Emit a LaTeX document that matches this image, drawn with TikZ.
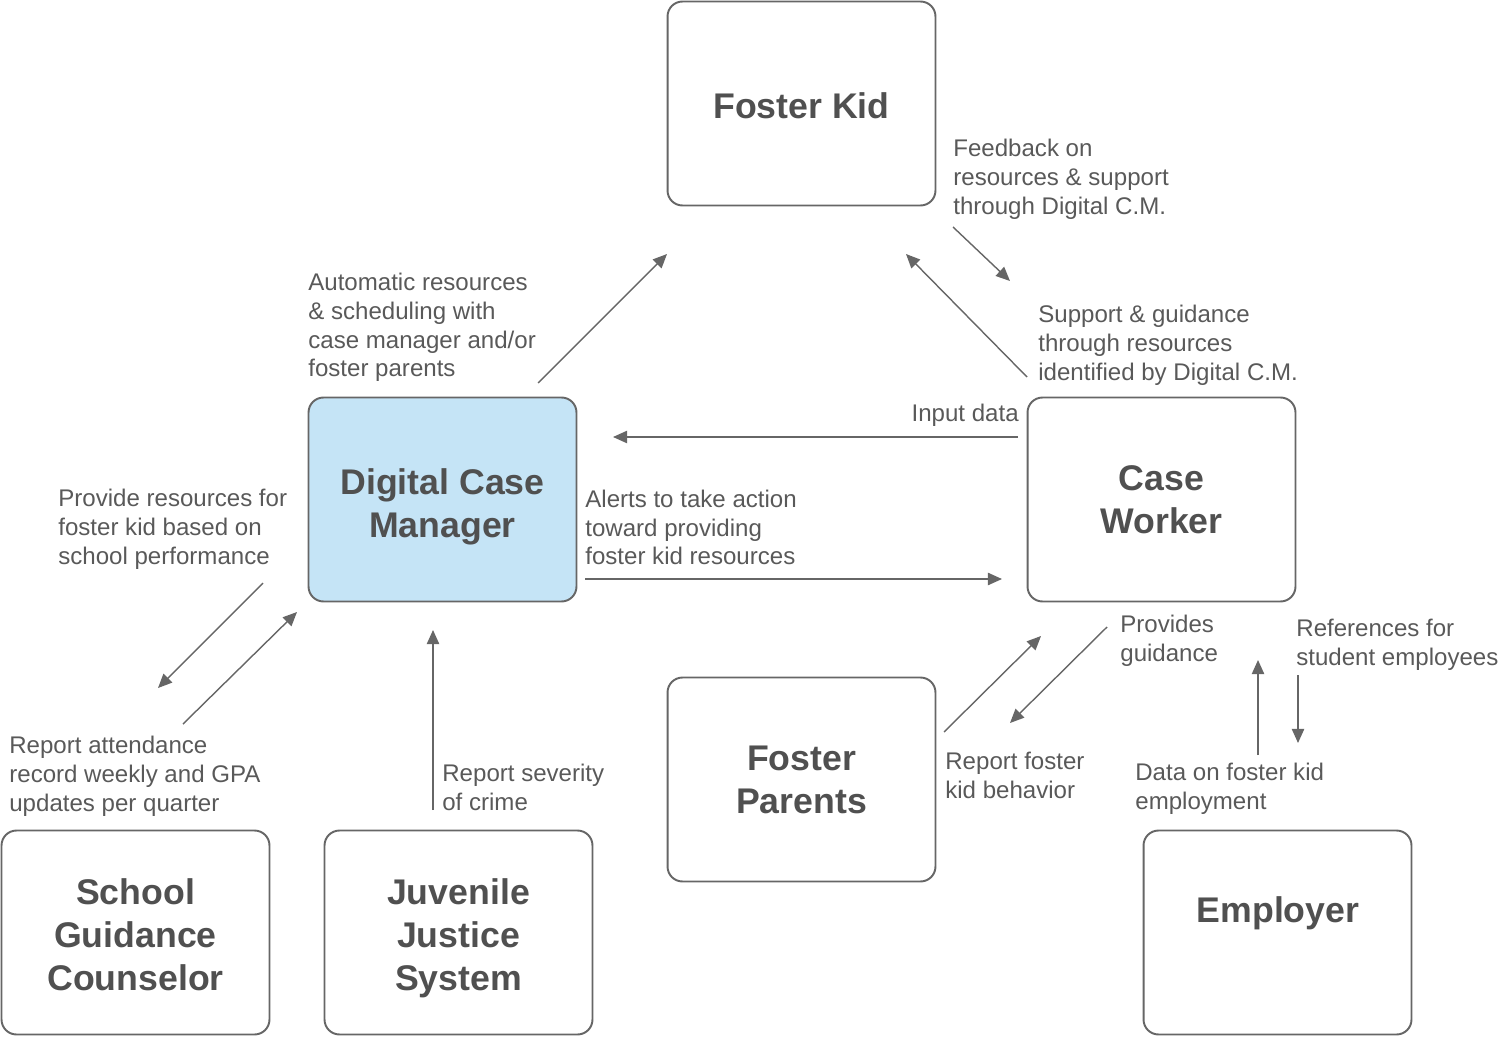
\documentclass[tikz,border=0pt]{standalone}
\usepackage{fontspec}
\setmainfont{Liberation Sans}
\usetikzlibrary{arrows.meta}
\definecolor{linegray}{HTML}{666666}
\definecolor{txtgray}{HTML}{595959}
\definecolor{titlegray}{HTML}{505050}
\definecolor{dcmblue}{RGB}{197,228,246}
\begin{document}
\begin{tikzpicture}[x=0.02cm,y=-0.02cm,
  box/.style={draw=linegray, line width=1.1pt, rounded corners=8.5pt, minimum width=5.36cm, minimum height=4.08cm, inner sep=0pt, align=center, text=titlegray, font=\fontsize{20.3}{24.4}\selectfont\bfseries},
  titletext/.style={inner sep=0pt, align=center, text=titlegray, font=\fontsize{20.3}{24.4}\selectfont\bfseries},
  lbl/.style={inner sep=0pt, anchor=west, align=left, text=txtgray, font=\fontsize{13.7}{16.4}\selectfont},
  conn/.style={draw=linegray, line width=0.8pt, -{Triangle[length=8pt,width=7pt]}}]
\useasboundingbox (0,0) rectangle (1500,1037);

% boxes
\node[box] (fk) at (801.5,103.5) {};
\node[titletext] (fkt) at (801.5,105.5) {Foster Kid};
\node[box, fill=dcmblue] (dcm) at (442.5,499.5) {};
\node[titletext] (dcmt) at (442.5,507) {Digital Case\\Manager};
\node[box] (cw) at (1161.5,499.5) {Case\\Worker};
\node[box] (fp) at (801.5,779.5) {Foster\\Parents};
\node[box] (sgc) at (135.5,932.5) {};
\node[titletext] (sgct) at (135.5,934.5) {School\\Guidance\\Counselor};
\node[box] (jjs) at (458.5,932.5) {};
\node[titletext] (jjst) at (458.5,938) {Juvenile\\Justice\\System};
\node[box] (emp) at (1277.5,932.5) {};
\node[titletext] (empt) at (1278,913) {Employer};

% connector end points
\coordinate (a1s) at (538,383);  \coordinate (a1e) at (667,254);
\coordinate (a2s) at (953,227);  \coordinate (a2e) at (1010,281);
\coordinate (a3s) at (1027,377); \coordinate (a3e) at (906,254);
\coordinate (a4s) at (1018,437); \coordinate (a4e) at (613,437);
\coordinate (a5s) at (585,579);  \coordinate (a5e) at (1002,579);
\coordinate (a6s) at (263,583);  \coordinate (a6e) at (158,688);
\coordinate (a7s) at (183,724);  \coordinate (a7e) at (297,612);
\coordinate (a8s) at (433,810);  \coordinate (a8e) at (433,630);
\coordinate (a9s) at (944,732);  \coordinate (a9e) at (1041,636);
\coordinate (a10s) at (1107,627); \coordinate (a10e) at (1010,723);
\coordinate (a11s) at (1258,755); \coordinate (a11e) at (1258,660);
\coordinate (a12s) at (1298,675); \coordinate (a12e) at (1298,743);

\draw[conn] (a1s) -- (a1e);
\draw[conn] (a2s) -- (a2e);
\draw[conn] (a3s) -- (a3e);
\draw[conn] (a4s) -- (a4e);
\draw[conn] (a5s) -- (a5e);
\draw[conn] (a6s) -- (a6e);
\draw[conn] (a7s) -- (a7e);
\draw[conn] (a8s) -- (a8e);
\draw[conn] (a9s) -- (a9e);
\draw[conn] (a10s) -- (a10e);
\draw[conn] (a11s) -- (a11e);
\draw[conn] (a12s) -- (a12e);

% labels
\node[lbl] (l1) at (308,327.5) {Automatic resources\\\& scheduling with\\case manager and/or\\foster parents};
\node[lbl] (l2) at (953,179) {Feedback on\\resources \& support\\through Digital C.M.};
\node[lbl] (l3) at (1038,345) {Support \& guidance\\through resources\\identified by Digital C.M.};
\node[lbl, anchor=east] (l4) at (1019,415) {Input data};
\node[lbl] (l5) at (585,527.5) {Alerts to take action\\toward providing\\foster kid resources};
\node[lbl] (l6) at (58,529) {Provide resources for\\foster kid based on\\school performance};
\node[lbl] (l7) at (9,776) {Report attendance\\record weekly and GPA\\updates per quarter};
\node[lbl] (l8) at (442,787.5) {Report severity\\of crime};
\node[lbl] (l9) at (945,775.5) {Report foster\\kid behavior};
\node[lbl] (l10) at (1120,641) {Provides\\guidance};
\node[lbl] (l11) at (1296,645) {References for\\student employees};
\node[lbl] (l12) at (1135,789) {Data on foster kid\\employment};
\end{tikzpicture}
\end{document}
